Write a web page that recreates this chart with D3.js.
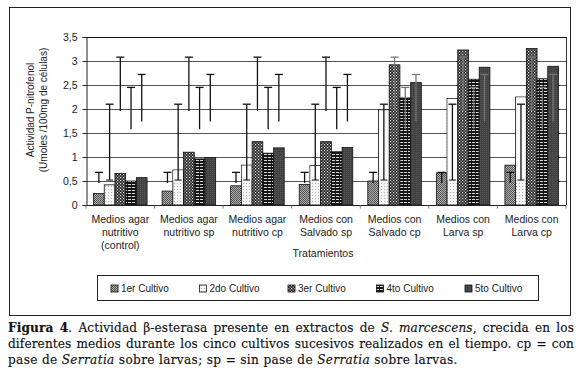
<!DOCTYPE html>
<html><head><meta charset="utf-8">
<script src="https://cdn.jsdelivr.net/npm/d3@7"></script>
<style>body{margin:0;background:#fff}svg{display:block}</style>
</head><body><svg id="c" width="580" height="370"></svg>
<script>
const categories = ["Medios agar nutritivo (control)","Medios agar nutritivo sp","Medios agar nutritivo cp","Medios con Salvado sp","Medios con Salvado cp","Medios con Larva sp","Medios con Larva cp"];
const categoryLines = [["Medios agar","nutritivo","(control)"],["Medios agar","nutritivo sp"],["Medios agar","nutritivo cp"],["Medios con","Salvado sp"],["Medios con","Salvado cp"],["Medios con","Larva sp"],["Medios con","Larva cp"]];
const seriesNames = ["1er Cultivo","2do Cultivo","3er Cultivo","4to Cultivo","5to Cultivo"];
const cultivo1 = [0.24,0.29,0.40,0.43,0.50,0.67,0.83];
const cultivo2 = [0.42,0.73,0.83,0.82,1.98,2.22,2.25];
const cultivo3 = [0.66,1.10,1.32,1.32,2.92,3.23,3.26];
const cultivo4 = [0.50,0.96,1.08,1.11,2.23,2.62,2.63];
const cultivo5 = [0.57,0.99,1.19,1.20,2.55,2.87,2.89];
const errLow  = [0.46,0.52,1.96,1.58,1.74];
const errHigh = [0.68,2.10,3.08,2.45,2.72];
const yTicks = [0,0.5,1,1.5,2,2.5,3,3.5];
const yLabel = ["Actividad P-nitrofenol","(Umoles /100mg de células)"];
const xTitle = "Tratamientos";

const series = [cultivo1,cultivo2,cultivo3,cultivo4,cultivo5];
const svg = d3.select("#c");
const defs = svg.append("defs");
function pat(id,w,h,bg,draw){const p=defs.append("pattern").attr("id",id).attr("patternUnits","userSpaceOnUse").attr("width",w).attr("height",h);p.append("rect").attr("width",w).attr("height",h).attr("fill",bg);draw(p);}
pat("p1",2,2,"#adadad",p=>{p.append("rect").attr("x",0).attr("y",0).attr("width",1).attr("height",1).attr("fill","#555");p.append("rect").attr("x",1).attr("y",1).attr("width",1).attr("height",1).attr("fill","#555");});
pat("p2",3,3,"#f4f4f4",p=>{p.append("rect").attr("x",0).attr("y",0).attr("width",1).attr("height",1).attr("fill","#b0b0b0");});
pat("p3",3,3,"#202020",p=>{p.append("rect").attr("x",0).attr("y",0).attr("width",1.2).attr("height",1.2).attr("fill","#ececec");p.append("rect").attr("x",1.5).attr("y",1.5).attr("width",1.2).attr("height",1.2).attr("fill","#d0d0d0");});
pat("p4",4,3,"#161616",p=>{p.append("rect").attr("x",0).attr("y",1).attr("width",3).attr("height",1).attr("fill","#d8d8d8");});
pat("p5",2,2,"#424242",p=>{p.append("rect").attr("x",0).attr("y",0).attr("width",1).attr("height",1).attr("fill","#555");});
const fills = ["url(#p1)","url(#p2)","url(#p3)","url(#p4)","url(#p5)"];

// outer frame
svg.append("rect").attr("x",9.5).attr("y",7.5).attr("width",561).attr("height",308).attr("fill","none").attr("stroke","#222").attr("stroke-width",1);

const L=86,R=566,T=37,B=205;
const x = d3.scaleBand().domain(categories).range([L,R]).paddingInner(0.219).paddingOuter(0.11);
const xs = d3.scaleBand().domain(d3.range(5)).range([0,x.bandwidth()]).padding(0);
const y = d3.scaleLinear().domain([0,3.5]).range([B,T]);

// gridlines
svg.append("g").selectAll("line").data(yTicks.filter(v=>v>0)).join("line")
 .attr("x1",L).attr("x2",R).attr("y1",d=>Math.round(y(d))+0.5).attr("y2",d=>Math.round(y(d))+0.5)
 .attr("stroke",d=>d===3.5?"#111":"#555").attr("stroke-width",1);
svg.append("line").attr("x1",R+0.5).attr("x2",R+0.5).attr("y1",T).attr("y2",B).attr("stroke","#333");

// y axis
const ya = svg.append("g").attr("transform",`translate(${L+0.5},0)`).call(d3.axisLeft(y).tickValues(yTicks).tickSize(4).tickFormat(d=>d3.format(",.1~f")(d).replace(".",",")));
ya.selectAll("text").attr("font-family","Liberation Sans, Arial").attr("font-size",10.5).attr("fill","#222").attr("dx",-2);
ya.selectAll("line,path").attr("stroke","#222");

// bars
const g = svg.append("g");
categories.forEach((c,i)=>{
  series.forEach((s,j)=>{
    const bx = x(c)+xs(j), bw = xs.bandwidth();
    g.append("rect").attr("x",bx).attr("y",y(s[i])).attr("width",bw).attr("height",y(0)-y(s[i])).attr("fill",fills[j]).attr("stroke","#111").attr("stroke-width",0.8);
    if(j===1 && s[i]>errLow[j]){
      g.append("rect").attr("x",bx+0.5).attr("y",y(s[i])+0.5).attr("width",bw-1).attr("height",y(errLow[j])-y(s[i])).attr("fill","#fbfbfb");
    }
  });
});
// error bars
categories.forEach((c,i)=>{
  series.forEach((s,j)=>{
    const cx = x(c)+xs(j)+xs.bandwidth()/2;
    const e = g.append("g").attr("stroke", s[i]>errLow[j] && j>1 ? "#777":"#111").attr("stroke-width",1.3);
    e.append("line").attr("x1",cx).attr("x2",cx).attr("y1",y(errLow[j])).attr("y2",y(errHigh[j]));
    e.append("line").attr("x1",cx-4).attr("x2",cx+4).attr("y1",y(errHigh[j])).attr("y2",y(errHigh[j]));
    if(j===1) e.append("line").attr("x1",cx-3.5).attr("x2",cx+3.5).attr("y1",y(errLow[j])).attr("y2",y(errLow[j])).attr("stroke-width",1);
  });
});

// x axis
const xa = svg.append("g").attr("transform",`translate(0,${B+0.5})`);
xa.append("line").attr("x1",L).attr("x2",R).attr("stroke","#222");
xa.selectAll("line.t").data(d3.range(categories.length+1)).join("line").attr("class","t")
 .attr("x1",d=>L+d*x.step()).attr("x2",d=>L+d*x.step()).attr("y1",0).attr("y2",3).attr("stroke","#777");
categories.forEach((c,i)=>{
  const t = svg.append("text").attr("x",x(c)+x.bandwidth()/2).attr("y",223).attr("text-anchor","middle")
    .attr("font-family","Liberation Sans, Arial").attr("font-size",10.5).attr("fill","#222");
  categoryLines[i].forEach((ln,k)=>t.append("tspan").attr("x",x(c)+x.bandwidth()/2).attr("dy",k?13:0).text(ln));
});
svg.append("text").attr("x",(L+R)/2-3).attr("y",257).attr("text-anchor","middle").attr("font-family","Liberation Sans, Arial").attr("font-size",10.5).attr("fill","#222").text(xTitle);

// y label
const yl = svg.append("text").attr("transform","translate(34,110) rotate(-90)").attr("text-anchor","middle").attr("font-family","Liberation Sans, Arial").attr("font-size",10).attr("fill","#222");
yLabel.forEach((ln,k)=>yl.append("tspan").attr("x",0).attr("dy",k?13:0).text(ln));

// legend
svg.append("rect").attr("x",97.5).attr("y",275.5).attr("width",441).attr("height",25).attr("fill","#fff").attr("stroke","#222");
const lx = d3.scalePoint().domain(seriesNames).range([111,465]);
seriesNames.forEach((n,j)=>{
  svg.append("rect").attr("x",lx(n)).attr("y",285).attr("width",7).attr("height",7).attr("fill",fills[j]).attr("stroke","#111").attr("stroke-width",0.8);
  svg.append("text").attr("x",lx(n)+10).attr("y",292).attr("font-family","Liberation Sans, Arial").attr("font-size",10).attr("fill","#222").text(n);
});

// caption
const capLines = [
 [["Figura 4","b"],[". Actividad β-esterasa presente en extractos de ",""],["S. marcescens","i"],[", crecida en los",""]],
 [["diferentes medios durante los cinco cultivos sucesivos realizados en el tiempo. cp = con",""]],
 [["pase de ",""],["Serratia","i"],[" sobre larvas; sp = sin pase de ",""],["Serratia","i"],[" sobre larvas.",""]]
];
const capY=[332,348,364];
const capLS=[0.12,0.12,0.35];
capLines.forEach((segs,k)=>{
  const t = svg.append("text").attr("x",8).attr("y",capY[k]).attr("font-family","DejaVu Serif, serif").attr("font-size",12.1).attr("letter-spacing",capLS[k]).attr("fill","#111").attr("stroke","#111").attr("stroke-width",0.15);
  segs.forEach(([s,st])=>{const sp=t.append("tspan").text(s); if(st==="b")sp.attr("font-weight","bold"); if(st==="i")sp.attr("font-style","italic");});
  if(k<2){
    const w = t.node().getComputedTextLength();
    const full = segs.map(d=>d[0]).join("");
    const n = (full.match(/ /g)||[]).length;
    t.attr("word-spacing",(574-8-w)/n);
  }
});
</script></body></html>
